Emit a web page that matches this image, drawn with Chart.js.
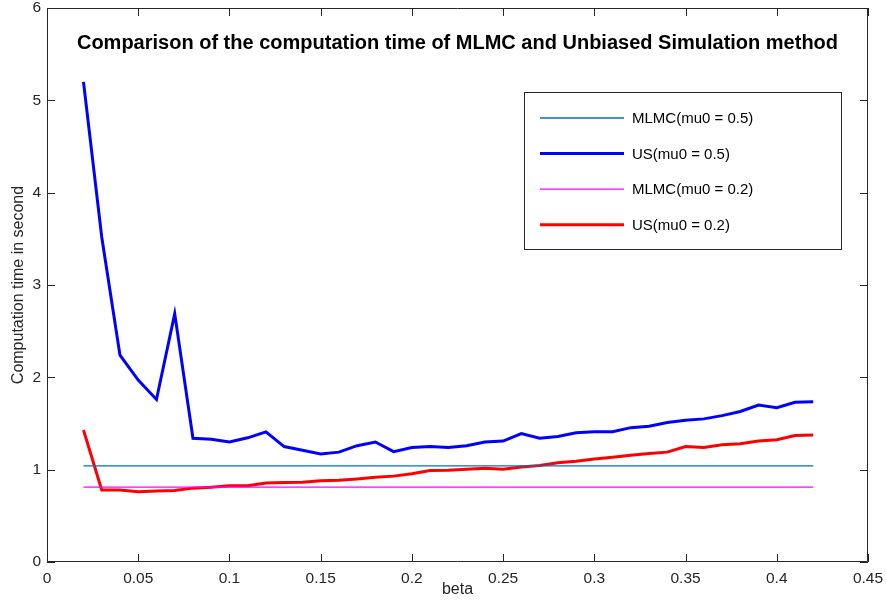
<!DOCTYPE html>
<html>
<head>
<meta charset="utf-8">
<script src="https://cdn.jsdelivr.net/npm/chart.js@4"></script>
<style>
  html, body { margin: 0; padding: 0; background: #fff; }
  #wrap { width: 886px; height: 602px; }
</style>
</head>
<body>
<div id="wrap"><canvas id="time-chart" width="886" height="602"></canvas></div>
<script>
const betas = [0.02, 0.03, 0.04, 0.05, 0.06, 0.07, 0.08, 0.09, 0.10, 0.11, 0.12, 0.13, 0.14, 0.15,
  0.16, 0.17, 0.18, 0.19, 0.20, 0.21, 0.22, 0.23, 0.24, 0.25, 0.26, 0.27, 0.28, 0.29, 0.30,
  0.31, 0.32, 0.33, 0.34, 0.35, 0.36, 0.37, 0.38, 0.39, 0.40, 0.41, 0.42];
const usMu05 = [5.20, 3.52, 2.24, 1.97, 1.76, 2.69, 1.34, 1.33, 1.30, 1.345, 1.41, 1.25, 1.21, 1.17,
  1.19, 1.26, 1.30, 1.195, 1.24, 1.25, 1.24, 1.26, 1.30, 1.31, 1.39, 1.34, 1.36, 1.40, 1.41,
  1.41, 1.455, 1.47, 1.51, 1.535, 1.55, 1.585, 1.63, 1.70, 1.67, 1.73, 1.735];
const usMu02 = [1.43, 0.78, 0.78, 0.76, 0.77, 0.775, 0.80, 0.81, 0.825, 0.825, 0.855, 0.86, 0.865, 0.88,
  0.885, 0.90, 0.918, 0.93, 0.955, 0.99, 0.995, 1.005, 1.015, 1.005, 1.03, 1.045, 1.075, 1.09, 1.115,
  1.135, 1.155, 1.175, 1.19, 1.25, 1.24, 1.27, 1.28, 1.31, 1.325, 1.37, 1.375];
const mlmcBetas = [0.02, 0.42];
const mlmcMu05 = [1.04, 1.04];
const mlmcMu02 = [0.81, 0.81];

const seriesLabels = ["MLMC(mu0 = 0.5)", "US(mu0 = 0.5)", "MLMC(mu0 = 0.2)", "US(mu0 = 0.2)"];
const chartTitle = "Comparison of the computation time of MLMC and Unbiased Simulation method";
const xTicks = [0, 0.05, 0.1, 0.15, 0.2, 0.25, 0.3, 0.35, 0.4, 0.45];
const yTicks = [0, 1, 2, 3, 4, 5, 6];

const FONT = "'Liberation Sans', Arial, Helvetica, sans-serif";
const AXIS_COLOR = "#262626";

function toPoints(xs, ys) {
  return xs.map((x, i) => ({ x, y: ys[i] }));
}

// tick labels may hang over the plot edges, like in matlab
function noOverhang(scale) {
  scale.paddingTop = 0;
  scale.paddingBottom = 0;
  scale.paddingLeft = 0;
  scale.paddingRight = 0;
}

// matlab-style box: full frame, inward ticks on all sides, title and legend inside the axes
const matlabFrame = {
  id: "matlabFrame",
  afterDatasetsDraw(chart) {
    const { ctx, chartArea: area, scales } = chart;
    const tickLen = 8;
    ctx.save();
    ctx.strokeStyle = AXIS_COLOR;
    ctx.lineWidth = 1;
    ctx.beginPath();
    ctx.rect(area.left + 0.5, area.top + 0.5, area.right - area.left - 1, area.bottom - area.top - 1);
    xTicks.forEach((v) => {
      const px = Math.round(scales.x.getPixelForValue(v)) + 0.5;
      ctx.moveTo(px, area.bottom);
      ctx.lineTo(px, area.bottom - tickLen);
      ctx.moveTo(px, area.top);
      ctx.lineTo(px, area.top + tickLen);
    });
    yTicks.forEach((v) => {
      const py = Math.round(scales.y.getPixelForValue(v)) + 0.5;
      ctx.moveTo(area.left, py);
      ctx.lineTo(area.left + tickLen, py);
      ctx.moveTo(area.right, py);
      ctx.lineTo(area.right - tickLen, py);
    });
    ctx.stroke();

    ctx.fillStyle = "#000";
    ctx.font = `bold 20px ${FONT}`;
    ctx.textAlign = "center";
    ctx.textBaseline = "middle";
    ctx.fillText(chartTitle, (area.left + area.right) / 2, area.top + 35);

    // legend
    const box = { x: 524.5, y: 92.5, w: 317, h: 157 };
    ctx.fillStyle = "#fff";
    ctx.fillRect(box.x, box.y, box.w, box.h);
    ctx.strokeStyle = AXIS_COLOR;
    ctx.lineWidth = 1;
    ctx.strokeRect(box.x, box.y, box.w, box.h);
    ctx.font = `15px ${FONT}`;
    ctx.textAlign = "left";
    chart.data.datasets.forEach((ds, i) => {
      const rowY = 118 + i * 35.6;
      ctx.strokeStyle = ds.borderColor;
      ctx.lineWidth = ds.borderWidth;
      ctx.beginPath();
      ctx.moveTo(540, rowY);
      ctx.lineTo(624, rowY);
      ctx.stroke();
      ctx.fillStyle = "#000";
      ctx.fillText(ds.label, 632, rowY + 1);
    });
    ctx.restore();
  },
};

const ctx = document.getElementById("time-chart").getContext("2d");
new Chart(ctx, {
  type: "line",
  data: {
    datasets: [
      {
        label: seriesLabels[0],
        data: toPoints(mlmcBetas, mlmcMu05),
        borderColor: "#0072BD",
        borderWidth: 1.3,
      },
      {
        label: seriesLabels[1],
        data: toPoints(betas, usMu05),
        borderColor: "#0000FF",
        borderWidth: 3,
      },
      {
        label: seriesLabels[2],
        data: toPoints(mlmcBetas, mlmcMu02),
        borderColor: "#FF00FF",
        borderWidth: 1.3,
      },
      {
        label: seriesLabels[3],
        data: toPoints(betas, usMu02),
        borderColor: "#FF0000",
        borderWidth: 3,
      },
    ],
  },
  options: {
    responsive: false,
    animation: false,
    devicePixelRatio: 1,
    elements: {
      point: { radius: 0, hoverRadius: 0 },
      line: { tension: 0, borderJoinStyle: "miter", fill: false },
    },
    layout: { padding: { top: 8, right: 18, left: 0, bottom: 0 } },
    plugins: {
      legend: { display: false },
      tooltip: { enabled: false },
    },
    scales: {
      x: {
        type: "linear",
        min: 0,
        max: 0.45,
        afterBuildTicks: (scale) => {
          scale.ticks = xTicks.map((value) => ({ value }));
        },
        afterFit: (scale) => {
          scale.height = 40;
          noOverhang(scale);
        },
        grid: { display: false, drawTicks: false },
        border: { display: false },
        ticks: {
          autoSkip: false,
          maxRotation: 0,
          padding: 7,
          color: AXIS_COLOR,
          font: { family: FONT, size: 15.5 },
          callback: (value) => String(Number(value.toFixed(2))),
        },
        title: {
          display: true,
          text: "beta",
          color: AXIS_COLOR,
          padding: { top: 0, bottom: 3 },
          font: { family: FONT, size: 16 },
        },
      },
      y: {
        min: 0,
        max: 6,
        afterBuildTicks: (scale) => {
          scale.ticks = yTicks.map((value) => ({ value }));
        },
        afterFit: (scale) => {
          scale.width = 47;
          noOverhang(scale);
        },
        grid: { display: false, drawTicks: false },
        border: { display: false },
        ticks: {
          padding: 6,
          color: AXIS_COLOR,
          font: { family: FONT, size: 15.5 },
        },
        title: {
          display: true,
          text: "Computation time in second",
          color: AXIS_COLOR,
          padding: { top: 9, bottom: 0 },
          font: { family: FONT, size: 16 },
        },
      },
    },
  },
  plugins: [matlabFrame],
});
</script>
</body>
</html>
